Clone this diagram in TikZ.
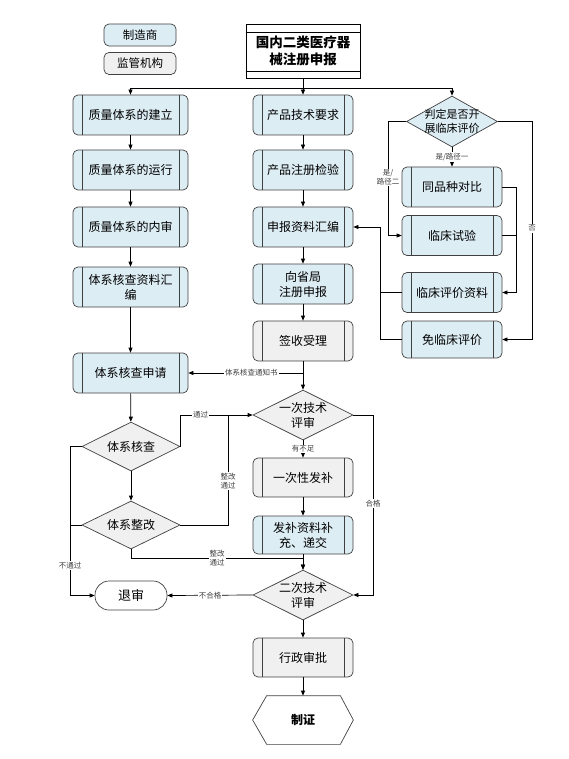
\documentclass[tikz,border=0pt]{standalone}
\usepackage{fontspec}
\setmainfont{Noto Sans CJK SC}
\usetikzlibrary{shapes.geometric,arrows.meta}
\definecolor{boxblue}{HTML}{DDEDF4}
\definecolor{boxgray}{HTML}{F0F0F0}
\tikzset{
	proc/.style={draw=black!75, fill=boxblue, rounded corners=5pt, minimum width=100pt, minimum height=40pt, inner sep=2pt, align=center, font=\fontsize{12}{15}\selectfont,
		path picture={
			\draw[black!75] ([xshift=9pt]path picture bounding box.north west) -- ([xshift=9pt]path picture bounding box.south west);
			\draw[black!75] ([xshift=-9pt]path picture bounding box.north east) -- ([xshift=-9pt]path picture bounding box.south east);}},
	wide/.style={minimum width=115pt},
	dec/.style={diamond, aspect=2, draw=black!75, fill=boxgray, minimum width=100pt, minimum height=50pt, inner sep=-6pt, align=center, font=\fontsize{12}{15}\selectfont},
	arr/.style={-{Triangle[length=5pt,width=4pt]}},
	lbl/.style={fill=white, inner sep=1pt, font=\fontsize{7.5}{9}\selectfont, align=center, text=black!75},
	leg/.style={draw=black!75, rounded corners=5pt, minimum width=72pt, minimum height=22pt, font=\fontsize{11.5}{13}\selectfont}
}
\begin{document}
\begin{tikzpicture}[x=1pt, y=-1pt, line width=0.7pt]
	\useasboundingbox (0,0) rectangle (569,759);

	\node[leg, fill=boxblue] (m1) at (140,35) {制造商};
	\node[leg, fill=boxgray] (m2) at (140,63.5) {监管机构};

	\node[draw, minimum width=114pt, minimum height=54pt, align=center, font=\fontsize{13.5}{17}\selectfont\bfseries] (t0) at (303,51) {国内二类医疗器\\械注册申报};
	\draw ([yshift=-9pt]t0.north west) -- ([yshift=-9pt]t0.north east);
	\draw ([yshift=7pt]t0.south west) -- ([yshift=7pt]t0.south east);

	\node[proc, wide] (q1) at (130.5,115) {质量体系的建立};
	\node[proc, wide] (q2) at (130.5,170) {质量体系的运行};
	\node[proc, wide] (q3) at (130.5,227) {质量体系的内审};
	\node[proc, wide] (q4) at (130.5,287) {体系核查资料汇\\编};
	\node[proc, wide] (q5) at (130.5,373) {体系核查申请};
	\node[dec, minimum width=98pt, minimum height=49pt] (d1) at (131,446.5) {体系核查};
	\node[dec, minimum width=98pt, minimum height=48pt] (d2) at (131,525) {体系整改};
	\node[draw=black!75, rounded corners=14pt, minimum width=72pt, minimum height=29pt, font=\fontsize{13}{15}\selectfont] (t1) at (131,595.5) {退审};

	\node[proc] (p1) at (303,115) {产品技术要求};
	\node[proc] (p2) at (303,170) {产品注册检验};
	\node[proc] (p3) at (303,227) {申报资料汇编};
	\node[proc] (p4) at (303,284) {向省局\\注册申报};
	\node[proc, fill=boxgray] (p5) at (303,341) {签收受理};
	\node[dec] (r1) at (303,415) {一次技术\\评审};
	\node[proc, fill=boxgray, minimum height=39pt] (p7) at (303,477.5) {一次性发补};
	\node[proc, minimum height=38pt] (p8) at (303,535) {发补资料补\\充、递交};
	\node[dec] (r2) at (303,595) {二次技术\\评审};
	\node[proc, fill=boxgray, minimum height=39pt] (p10) at (303,657.5) {行政审批};
	\node[minimum width=100pt, minimum height=48pt, font=\fontsize{12}{14}\selectfont\bfseries] (z) at (303,720) {制证};
	\draw[black!75] (z.west) -- ([xshift=14pt]z.north west) -- ([xshift=-13pt]z.north east) -- (z.east) -- ([xshift=-13pt]z.south east) -- ([xshift=14pt]z.south west) -- cycle;

	\node[dec, fill=boxblue, minimum width=91pt, minimum height=51pt, font=\fontsize{11}{13.5}\selectfont] (c0) at (452,121.5) {判定是否开\\展临床评价};
	\node[proc] (c1) at (452,187) {同品种对比};
	\node[proc] (c2) at (452,235.5) {临床试验};
	\node[proc] (c3) at (452,292.5) {临床评价资料};
	\node[proc, minimum height=37pt] (c4) at (452,339.5) {免临床评价};

	\coordinate (top) at (303,88);
	\coordinate (lx) at (70,0);
	\coordinate (j1) at (228,0);
	\coordinate (j2) at (303,558);
	\coordinate (rg) at (373,0);
	\coordinate (rb) at (380,0);
	\coordinate (rl) at (388,0);
	\coordinate (rm) at (516,0);
	\coordinate (rr) at (532,0);

	\draw (t0) -- (top);
	\draw[arr] (top) -| (q1.north);
	\draw[arr] (top) -- (p1);
	\draw[arr] (top) -| (c0.north);

	\foreach \a/\b in {q1/q2,q2/q3,q3/q4,q4/q5,q5/d1,d1/d2,p1/p2,p2/p3,p3/p4,p4/p5,p5/r1,p7/p8,p8/r2,r2/p10,p10/z}
		\draw[arr] (\a) -- (\b);

	\draw[arr] (p5 |- q5) -- node[lbl, pos=0.45]{体系核查通知书} (q5.east);
	\draw[arr] (r1) -- node[lbl]{有不足} (p7);
	\draw[arr] (d1.east) |- node[lbl, pos=0.64]{通过} (r1.west);
	\draw (d2.east) -| node[lbl, pos=0.7]{整改\\通过} (j1 |- r1);
	\draw[arr] (d2.south) |- node[lbl, pos=0.75]{整改\\通过} (j2) -- (r2.north);
	\draw[arr] (d1.west) -| node[lbl, pos=0.9]{不通过} (lx |- t1) -- (t1.west);
	\draw (d2.west) -- (lx |- d2);
	\draw[arr] (r2.west) -- node[lbl]{不合格} (t1.east);
	\draw[arr] (r1.east) -| node[lbl, pos=0.745]{合格} (rg |- r2) -- (r2.east);

	\draw[arr] (c0) -- node[lbl]{是/路径一} (c1);
	\draw[arr] (c0.west) -| node[lbl, pos=0.745]{是/\\路径二} (rl |- c2) -- (c2.west);
	\draw[arr] (c0.east) -| node[lbl, pos=0.745]{否} (rr |- c4) -- (c4.east);
	\draw[arr] (c1.east) -| (rm |- c3) -- (c3.east);
	\draw (c2.east) -- (rm |- c2);
	\draw[arr] (c3.west) -| (rb |- p3) -- (p3.east);
	\draw (c4.west) -| (rb |- c3);
\end{tikzpicture}
\end{document}
